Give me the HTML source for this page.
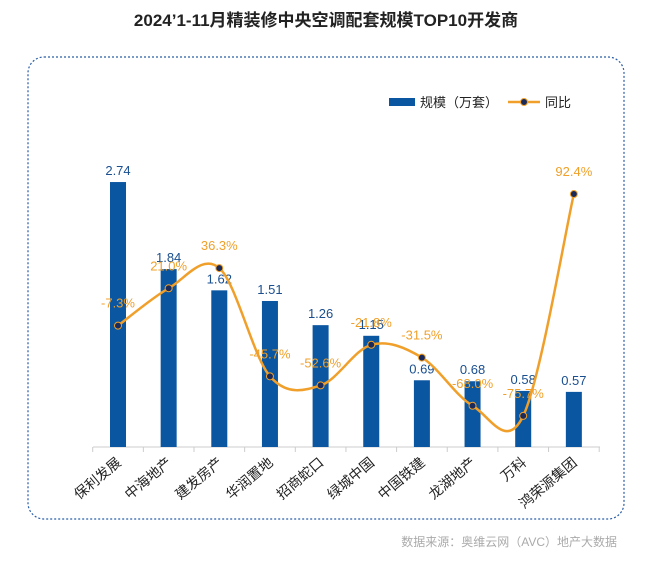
<!DOCTYPE html>
<html><head><meta charset="utf-8"><style>
body{margin:0;background:#fff;width:650px;height:559px;overflow:hidden;font-family:"Liberation Sans","Noto Sans CJK SC",sans-serif}
</style></head><body>
<svg width="650" height="559" xmlns="http://www.w3.org/2000/svg" font-family="Liberation Sans, Noto Sans CJK SC, sans-serif">
<text x="326" y="26" text-anchor="middle" font-size="17" font-weight="bold" fill="#222">2024’1-11月精装修中央空调配套规模TOP10开发商</text>
<rect x="28" y="57" width="596" height="462" rx="16" fill="none" stroke="#2a5ea8" stroke-width="1.2" stroke-dasharray="2,2"/>
<g>
<rect x="389" y="98" width="26" height="8" fill="#0a56a0"/>
<text x="420" y="107" font-size="13" fill="#222">规模（万套）</text>
<line x1="508" y1="102" x2="540" y2="102" stroke="#f0a02a" stroke-width="2.5"/>
<circle cx="524" cy="102" r="3.5" fill="#1a2a5a" stroke="#f0a02a"/>
<text x="545" y="107" font-size="13" fill="#222">同比</text>
</g>
<line x1="93" y1="447" x2="600" y2="447" stroke="#ccc"/>
<g id="chart"></g>
<text x="617" y="546" text-anchor="end" font-size="12" fill="#aaa">数据来源：奥维云网（AVC）地产大数据</text>
</svg>
<script>
const categories=["保利发展","中海地产","建发房产","华润置地","招商蛇口","绿城中国","中国铁建","龙湖地产","万科","鸿荣源集团"];
const scaleValues=[2.74,1.84,1.62,1.51,1.26,1.15,0.69,0.68,0.58,0.57];
const yoyValues=[-7.3,21.0,36.3,-45.7,-52.6,-21.8,-31.5,-68.0,-75.7,92.4];
const ns="http://www.w3.org/2000/svg";
const g=document.getElementById('chart');
const x=i=>118+i*50.65;
const yBar=v=>447-v*96.7;
const yLine=p=>316-p*1.32;
function mk(t,a){const e=document.createElementNS(ns,t);for(const k in a)e.setAttribute(k,a[k]);g.appendChild(e);return e;}
for(let i=0;i<=categories.length;i++){const t=mk('line',{x1:x(i)-25.3,x2:x(i)-25.3,y1:447,y2:452,stroke:'#ccc'});

}
categories.forEach((c,i)=>{
 const b=mk('rect',{x:x(i)-8,y:yBar(scaleValues[i]),width:16,height:447-yBar(scaleValues[i]),fill:'#0a56a0'});
 
 
 const l=mk('text',{x:x(i),y:yBar(scaleValues[i])-7,'text-anchor':'middle','font-size':13,fill:'#1a4f8f'});l.textContent=scaleValues[i].toFixed(2);
 
 
 const tx=x(i)+4, ty=464;
 const t=mk('text',{x:tx,y:ty,'text-anchor':'end','font-size':14,fill:'#222',transform:`rotate(-40 ${tx} ${ty})`});t.textContent=c;
 
 
});
const pts=yoyValues.map((v,i)=>[x(i),yLine(v)]);
let d=`M${pts[0][0]},${pts[0][1]}`;
for(let i=0;i<pts.length-1;i++){const p0=pts[i-1]||pts[i],p1=pts[i],p2=pts[i+1],p3=pts[i+2]||p2;
 const c1=[p1[0]+(p2[0]-p0[0])/6,p1[1]+(p2[1]-p0[1])/6],c2=[p2[0]-(p3[0]-p1[0])/6,p2[1]-(p3[1]-p1[1])/6];
 d+=` C${c1[0]},${c1[1]} ${c2[0]},${c2[1]} ${p2[0]},${p2[1]}`;}
const line=mk('path',{d:d,fill:'none',stroke:'#f0a02a','stroke-width':2.5});


yoyValues.forEach((v,i)=>{
 const c=mk('circle',{cx:pts[i][0],cy:pts[i][1],r:3.5,fill:'#1a2a5a',stroke:'#f0a02a'});
 
 
 const t=mk('text',{x:pts[i][0],y:pts[i][1]-18,'text-anchor':'middle','font-size':13,fill:'#f0a02a'});t.textContent=v.toFixed(1)+'%';
 
 
});
</script>
</body></html>
